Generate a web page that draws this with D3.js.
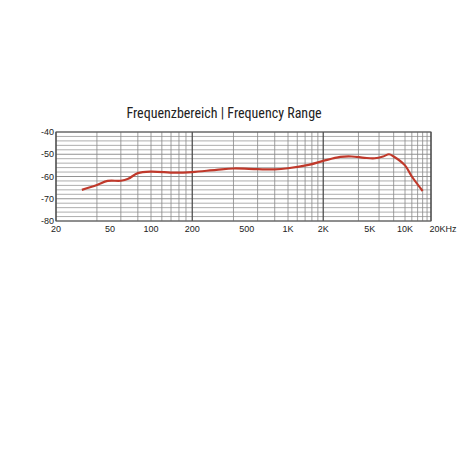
<!DOCTYPE html><html><head><meta charset="utf-8"><script src="https://d3js.org/d3.v7.min.js"></script>
<style>body{margin:0;background:#fff}</style></head><body><svg id="c" width="458" height="458"></svg>
<script>
const freqs=[31,40,48,60,68,80,100,150,200,300,400,600,800,1000,1500,2000,2800,3500,4500,5500,6500,7300,8000,10000,12000,16000];
const levels=[-66,-63.8,-62,-61.9,-61,-58.5,-57.8,-58.3,-58,-57,-56.4,-56.7,-56.8,-56.3,-54.8,-53,-51.2,-51,-51.6,-51.8,-51,-50,-51,-55,-60,-66.5];
const xTicks=[20,50,100,200,500,1000,2000,5000,10000,20000];
const xLabels=["20","50","100","200","500","1K","2K","5K","10K","20KHz"];
const yTicks=[-40,-50,-60,-70,-80];
const svg=d3.select("#c");
const x=d3.scaleLog().domain([20,100,1000,10000,20000]).range([56,151,288,405,431]);
const y=d3.scaleLinear().domain([-80,-40]).range([221,132]);
const g=svg.append("g");
d3.range(-80,-39,2).forEach(v=>g.append("line").attr("x1",56).attr("x2",431).attr("y1",y(v)).attr("y2",y(v)).attr("stroke",v%10===0?"#777":"#999").attr("stroke-width",0.8));
const vx=[];[20,200,2000].forEach(d=>{for(let k=1;k<10;k++)vx.push(d*k)});vx.push(20000);
vx.forEach(v=>{const dec=[20,200,2000,20000].includes(v);g.append("line").attr("x1",x(v)).attr("x2",x(v)).attr("y1",132).attr("y2",221).attr("stroke",dec?"#444":"#888").attr("stroke-width",dec?1.2:0.8)});
g.append("rect").attr("x",56).attr("y",132).attr("width",375).attr("height",89).attr("fill","none").attr("stroke","#555");
xTicks.forEach((t,i)=>svg.append("text").attr("x",x(t)+(i===9?12:0)).attr("y",232).attr("text-anchor","middle").attr("font-family","Liberation Sans, Arial").attr("font-size",9).attr("fill","#222").text(xLabels[i]));
yTicks.forEach(t=>svg.append("text").attr("x",54).attr("y",y(t)+3).attr("text-anchor","end").attr("font-family","Liberation Sans, Arial").attr("font-size",9).attr("fill","#222").text(t));
svg.append("path").datum(freqs.map((f,i)=>[f,levels[i]])).attr("fill","none").attr("stroke","#c0392b").attr("stroke-width",2.2).attr("stroke-linejoin","round")
 .attr("d",d3.line().x(d=>x(d[0])).y(d=>y(d[1])).curve(d3.curveCatmullRom.alpha(0.5)));
svg.append("text").attr("x",224).attr("y",118).attr("text-anchor","middle").attr("font-family","Liberation Sans Narrow, Roboto Condensed, Arial").attr("font-size",14).attr("fill","#222").text("Frequenzbereich  |  Frequency Range");
</script></body></html>
